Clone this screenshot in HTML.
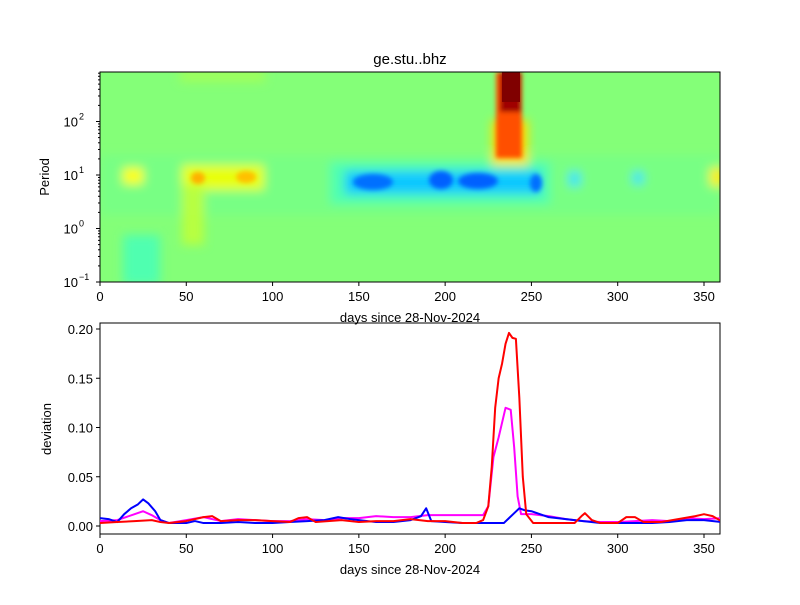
<!DOCTYPE html>
<html><head><meta charset="utf-8"><style>
body{margin:0;background:#fff}
svg text{font-family:"Liberation Sans","DejaVu Sans",sans-serif;fill:#000}
</style></head><body>
<svg id="s" width="800" height="600" xmlns="http://www.w3.org/2000/svg">
<defs>
<clipPath id="c1"><rect x="100" y="72" width="620" height="210"/></clipPath>
<clipPath id="c2"><rect x="100" y="323" width="620" height="211"/></clipPath>
<filter id="b4" x="-50%" y="-50%" width="200%" height="200%"><feGaussianBlur stdDeviation="5"/></filter>
<filter id="b2" x="-50%" y="-50%" width="200%" height="200%"><feGaussianBlur stdDeviation="2.5"/></filter>
</defs>
<g clip-path="url(#c1)">
<rect x="100" y="72" width="620" height="210" fill="#84ff78"/>
<g filter="url(#b4)">
<rect x="100" y="155" width="620" height="60" fill="#78ff84"/>
<rect x="123" y="235" width="37" height="50" fill="#50ffb0"/>
<rect x="330" y="162" width="220" height="42" fill="#50ffb0"/>
<rect x="180" y="70" width="85" height="12" fill="#a0ff5a"/>
<rect x="123" y="168" width="20" height="16" fill="#ffff00"/>
<rect x="182" y="165" width="82" height="25" fill="#e8ff10"/>
<rect x="182" y="185" width="22" height="60" fill="#b8ff40"/>
<rect x="710" y="168" width="14" height="18" fill="#ffee00"/>
<rect x="345" y="171" width="195" height="23" fill="#10c8ff"/>
<rect x="569" y="172" width="11" height="14" fill="#30e0ff"/>
<rect x="633" y="172" width="10" height="12" fill="#30e0ff"/>
<rect x="492" y="120" width="36" height="45" fill="#ffe000"/>
</g>
<g filter="url(#b2)">
<ellipse cx="198" cy="178" rx="7" ry="6" fill="#ffb000"/>
<ellipse cx="246" cy="177" rx="10" ry="6" fill="#ffc000"/>
<ellipse cx="373" cy="182" rx="20" ry="8" fill="#0070ff"/>
<ellipse cx="441" cy="180" rx="12" ry="9" fill="#0060ff"/>
<ellipse cx="478" cy="181" rx="20" ry="8" fill="#0060ff"/>
<ellipse cx="536" cy="183" rx="6" ry="9" fill="#0070ff"/>
<rect x="496" y="72" width="26" height="86" fill="#ff5000"/>
<rect x="500" y="72" width="21" height="40" fill="#a00000"/>
</g>
<rect x="502" y="72" width="18" height="30" fill="#800000"/>
</g>
<rect x="100" y="72" width="620" height="210" fill="none" stroke="#000" stroke-width="1"/>
<g id="ax1"></g>
<rect x="100" y="323" width="620" height="211" fill="none" stroke="#000" stroke-width="1"/>
<g id="ax2" clip-path="url(#c2)"></g>
<g id="t2"></g>
<text x="410" y="64" font-size="15" text-anchor="middle">ge.stu..bhz</text>
<text x="410" y="322" font-size="13" text-anchor="middle">days since 28-Nov-2024</text>
<text x="410" y="574" font-size="13" text-anchor="middle">days since 28-Nov-2024</text>
<text transform="translate(49,177) rotate(-90)" font-size="13" text-anchor="middle">Period</text>
<text transform="translate(51,429) rotate(-90)" font-size="13" text-anchor="middle">deviation</text>
</svg>
<script>
const NS="http://www.w3.org/2000/svg";
const X=d=>100+d*1.7257, Y=v=>526-v*985;
function el(p,t,a,txt){const e=document.createElementNS(NS,t);for(const k in a)e.setAttribute(k,a[k]);if(txt!=null)e.textContent=txt;p.appendChild(e);return e;}
const a1=document.getElementById('ax1'),t2=document.getElementById('t2'),a2=document.getElementById('ax2');
for(let d=0;d<=350;d+=50){const x=X(d);
 el(a1,'line',{x1:x,x2:x,y1:282,y2:286,stroke:'#000'});el(a1,'text',{x:x,y:301,'font-size':13,'text-anchor':'middle'},d);
 el(t2,'line',{x1:x,x2:x,y1:534,y2:538,stroke:'#000'});el(t2,'text',{x:x,y:553,'font-size':13,'text-anchor':'middle'},d);}
const dec=53.5;
[[-1,282],[0,228.5],[1,175],[2,121.5]].forEach(([p,y])=>{
 el(a1,'line',{x1:96,x2:100,y1:y,y2:y,stroke:'#000'});
 el(a1,'text',{x:78,y:y+5,'font-size':13,'text-anchor':'end'},'10');
 el(a1,'text',{x:79,y:y-2,'font-size':9},p==-1?'−1':p);
});
for(let p=-1;p<3;p++)for(let m=2;m<10;m++){const y=282-(p+1+Math.log10(m))*dec;if(y<72)continue;el(a1,'line',{x1:98,x2:100,y1:y,y2:y,stroke:'#000'});}
[0,0.05,0.1,0.15,0.2].forEach(v=>{const y=Y(v);el(t2,'line',{x1:96,x2:100,y1:y,y2:y,stroke:'#000'});el(t2,'text',{x:93,y:y+5,'font-size':13,'text-anchor':'end'},v.toFixed(2));});
function line(pts,c){el(a2,'polyline',{points:pts.map(([d,v])=>X(d)+','+Y(v)).join(' '),fill:'none',stroke:c,'stroke-width':2,'stroke-linejoin':'round'});}
line([[0,.005],[10,.006],[20,.012],[25,.015],[30,.011],[35,.006],[40,.003],[50,.006],[60,.009],[70,.005],[80,.007],[90,.006],[100,.005],[110,.005],[120,.007],[130,.006],[140,.008],[150,.008],[160,.01],[170,.009],[180,.009],[190,.011],[200,.011],[210,.011],[222,.011],[225,.02],[228,.07],[231,.09],[235,.12],[238,.118],[240,.08],[242,.03],[244,.012],[250,.012],[260,.01],[270,.007],[280,.005],[290,.004],[300,.004],[310,.005],[320,.006],[330,.005],[340,.008],[350,.007],[360,.008]],'#ff00ff');
line([[0,.008],[5,.007],[10,.004],[14,.012],[18,.018],[22,.022],[25,.027],[28,.023],[32,.015],[35,.006],[40,.003],[50,.003],[55,.005],[60,.003],[70,.003],[80,.004],[90,.003],[100,.003],[110,.004],[120,.005],[130,.006],[138,.009],[145,.007],[150,.006],[160,.004],[170,.004],[180,.006],[186,.01],[189,.018],[192,.005],[200,.004],[210,.003],[220,.003],[230,.003],[234,.003],[237,.008],[240,.013],[243,.018],[246,.016],[250,.015],[255,.012],[260,.009],[270,.007],[280,.005],[290,.003],[300,.003],[310,.003],[320,.003],[330,.004],[340,.006],[350,.006],[360,.004]],'#0000ff');
line([[0,.003],[10,.004],[20,.005],[30,.006],[35,.004],[40,.003],[50,.005],[60,.009],[65,.01],[70,.005],[80,.006],[90,.006],[100,.005],[110,.004],[115,.008],[120,.009],[125,.004],[140,.006],[150,.004],[160,.005],[170,.005],[180,.007],[190,.005],[200,.005],[210,.003],[218,.003],[222,.006],[225,.02],[227,.06],[229,.12],[231,.15],[233,.165],[235,.185],[237,.196],[239,.191],[241,.19],[243,.13],[245,.05],[247,.012],[251,.003],[265,.003],[275,.003],[279,.01],[281,.013],[285,.006],[290,.003],[300,.003],[305,.009],[310,.009],[315,.004],[325,.004],[335,.007],[345,.01],[350,.012],[355,.01],[360,.005]],'#ff0000');
</script>
</body></html>
